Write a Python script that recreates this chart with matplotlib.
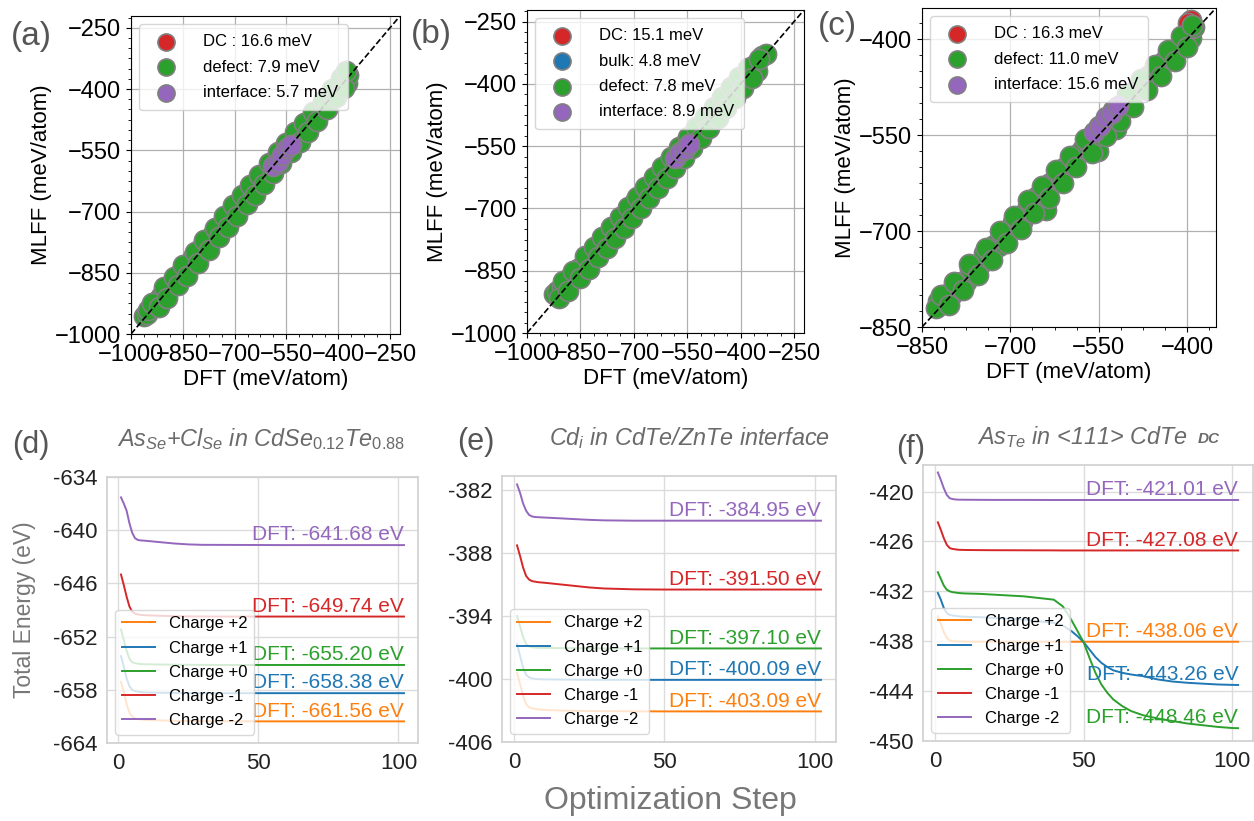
import matplotlib.pyplot as plt
from matplotlib.ticker import AutoMinorLocator, FuncFormatter

plt.rcParams['font.family'] = ['Liberation Sans', 'DejaVu Sans']
plt.rcParams['mathtext.fontset'] = 'custom'
plt.rcParams['mathtext.it'] = 'Liberation Sans:italic'
plt.rcParams['mathtext.rm'] = 'Liberation Sans'
plt.rcParams['mathtext.bf'] = 'Liberation Sans:bold'

W, H = 1254, 821

# ---- parity data (meV/atom) ----
a_dc_dft = [-705, -650]
a_dc_mlff = [-700, -645]
a_defect_dft = [-962, -955, -946, -936, -925, -913, -902, -890, -878, -866, -855, -843, -832, -820,
                -808, -796, -785, -773, -762, -750, -738, -727, -716, -705, -694, -683, -672, -661,
                -650, -639, -628, -617, -606, -595, -584, -573, -562, -551, -540, -529, -518, -507,
                -496, -485, -474, -463, -452, -441, -430, -419, -408, -397, -386, -378, -374, -371,
                -950, -940, -920, -905, -895, -875, -865, -850, -838, -815, -805, -790, -775, -758,
                -745, -730, -718, -705, -692, -678, -665, -655, -642, -628, -615, -600, -590, -575,
                -565, -550, -538, -525, -512, -500, -488, -472, -460, -445, -432, -418, -405, -392,
                -382, -376]
a_defect_mlff = [-955, -950, -938, -930, -920, -906, -898, -884, -872, -862, -848, -840, -826, -812,
                 -805, -790, -781, -768, -756, -746, -732, -722, -712, -700, -690, -690, -666, -668,
                 -645, -636, -622, -614, -600, -590, -580, -566, -556, -545, -534, -523, -515, -500,
                 -492, -480, -470, -458, -448, -436, -426, -414, -402, -390, -382, -372, -385, -365,
                 -942, -925, -935, -885, -912, -860, -880, -830, -858, -800, -825, -770, -795, -740,
                 -762, -712, -738, -685, -712, -660, -682, -635, -660, -610, -632, -582, -605, -555,
                 -582, -532, -555, -505, -530, -482, -505, -455, -478, -428, -450, -400, -420, -372,
                 -398, -356]
a_interface_dft = [-588, -575, -562, -548, -536]
a_interface_mlff = [-588, -578, -562, -545, -538]

b_dc_dft = [-751, -693]
b_dc_mlff = [-742, -680]
b_bulk_dft = [-856, -866]
b_bulk_mlff = [-845, -858]
b_defect_dft = [-925, -915, -903, -892, -880, -868, -856, -845, -833, -821, -810, -798, -786, -775,
                -763, -751, -740, -728, -716, -705, -693, -681, -670, -658, -646, -635, -623, -611,
                -600, -588, -576, -565, -553, -541, -530, -518, -506, -495, -483, -471, -460, -448,
                -436, -424, -412, -400, -388, -376, -364, -355, -340, -330,
                -910, -898, -885, -870, -850, -838, -826, -812, -800, -788, -776, -764, -752, -740,
                -728, -716, -704, -692, -680, -668, -656, -644, -632, -620, -608, -596, -584, -572,
                -560, -548, -536, -524, -512, -500, -488, -476, -464, -452, -440, -428, -416, -404,
                -392, -380, -368, -348]
b_defect_mlff = [-905, -900, -888, -882, -866, -858, -845, -838, -822, -812, -798, -788, -776, -765,
                 -752, -742, -728, -716, -704, -694, -680, -670, -664, -645, -634, -622, -612, -598,
                 -588, -575, -564, -553, -540, -528, -520, -506, -495, -484, -472, -460, -448, -436,
                 -425, -414, -400, -390, -378, -368, -358, -368, -334, -328,
                 -915, -875, -900, -850, -868, -815, -845, -792, -818, -768, -795, -744, -770, -720,
                 -746, -696, -722, -672, -700, -648, -675, -624, -650, -600, -626, -576, -602, -552,
                 -578, -528, -554, -504, -530, -480, -506, -456, -482, -432, -458, -408, -434, -384,
                 -410, -362, -386, -340]
b_interface_dft = [-585, -570, -555, -545]
b_interface_mlff = [-578, -565, -556, -545]

c_dc_dft = [-394, -398]
c_dc_mlff = [-370, -375]
c_defect_dft = [-822, -815, -808, -800, -792, -784, -776, -768, -760, -752, -744, -736, -728, -720,
                -712, -704, -696, -688, -680, -672, -664, -656, -648, -640, -632, -624, -616, -608,
                -600, -592, -584, -576, -568, -560, -552, -544, -536, -528, -520, -512, -504, -496,
                -488, -480, -472, -464, -456, -448, -440, -432, -424, -416, -408, -400, -394, -390,
                -388,
                -826, -818, -805, -795, -780, -770, -755, -742, -732, -718, -706, -694, -682, -670,
                -660, -646, -634, -622, -610, -598, -588, -574, -562, -550, -538, -526, -514, -502,
                -492, -478, -468, -455, -444, -432, -420, -410, -400, -392]
c_defect_mlff = [-810, -810, -798, -802, -784, -780, -779, -759, -754, -753, -734, -733, -721, -724,
                 -704, -702, -685, -683, -686, -665, -661, -647, -649, -667, -624, -618, -612, -600,
                 -596, -585, -578, -570, -562, -552, -575, -538, -530, -520, -541, -505, -498, -490,
                 -480, -472, -466, -456, -452, -440, -434, -425, -418, -412, -402, -392, -398, -383,
                 -380,
                 -820, -800, -815, -780, -792, -752, -768, -726, -745, -700, -718, -676, -696, -652,
                 -672, -630, -648, -604, -624, -582, -600, -556, -578, -535, -552, -510, -528, -486,
                 -506, -462, -480, -440, -458, -416, -434, -395, -412, -378]
c_interface_dft = [-558, -548, -538, -528, -518]
c_interface_mlff = [-545, -535, -522, -515, -505]

# ---- relaxation trajectories (eV) ----
charge_labels = ['Charge +2', 'Charge +1', 'Charge +0', 'Charge -1', 'Charge -2']
charge_colors = ['#ff7f0e', '#1f77b4', '#2ca02c', '#d62728', '#9467bd']

steps_de = [1, 2, 3, 4, 5, 6, 7, 8, 10, 15, 20, 25, 30, 40, 50, 60, 70, 80, 90, 100, 102]
d_p2 = [-657.1, -658.3, -659.6, -660.6, -661.0, -661.2, -661.3, -661.35, -661.4, -661.45, -661.5,
        -661.52, -661.54, -661.55, -661.56, -661.56, -661.56, -661.56, -661.56, -661.56, -661.56]
d_p1 = [-654.2, -655.4, -656.7, -657.6, -658.0, -658.15, -658.2, -658.25, -658.3, -658.33, -658.35,
        -658.36, -658.37, -658.38, -658.38, -658.38, -658.38, -658.38, -658.38, -658.38, -658.38]
d_0 = [-651.2, -652.4, -653.6, -654.5, -654.9, -655.0, -655.05, -655.1, -655.12, -655.15, -655.17,
       -655.18, -655.19, -655.2, -655.2, -655.2, -655.2, -655.2, -655.2, -655.2, -655.2]
d_m1 = [-645.0, -646.2, -647.5, -648.6, -649.2, -649.4, -649.5, -649.55, -649.6, -649.65, -649.7,
        -649.72, -649.73, -649.74, -649.74, -649.74, -649.74, -649.74, -649.74, -649.74, -649.74]
d_m2 = [-636.3, -637.0, -637.8, -639.2, -640.3, -640.9, -641.1, -641.15, -641.2, -641.35, -641.5,
        -641.6, -641.65, -641.66, -641.67, -641.68, -641.68, -641.68, -641.68, -641.68, -641.68]

e_p2 = [-399.4, -400.5, -401.6, -402.4, -402.7, -402.8, -402.85, -402.9, -402.95, -403.0, -403.03,
        -403.05, -403.07, -403.08, -403.09, -403.09, -403.09, -403.09, -403.09, -403.09, -403.09]
e_p1 = [-396.7, -397.8, -398.9, -399.6, -399.85, -399.95, -400.0, -400.02, -400.04, -400.06, -400.07,
        -400.08, -400.09, -400.09, -400.09, -400.09, -400.09, -400.09, -400.09, -400.09, -400.09]
e_0 = [-394.0, -395.0, -396.0, -396.7, -396.9, -397.0, -397.02, -397.04, -397.05, -397.07, -397.08,
       -397.09, -397.1, -397.1, -397.1, -397.1, -397.1, -397.1, -397.1, -397.1, -397.1]
e_m1 = [-387.3, -388.3, -389.4, -390.2, -390.55, -390.7, -390.75, -390.8, -390.85, -391.0, -391.15,
        -391.3, -391.4, -391.48, -391.5, -391.5, -391.5, -391.5, -391.5, -391.5, -391.5]
e_m2 = [-381.5, -382.3, -383.3, -384.0, -384.4, -384.55, -384.6, -384.62, -384.65, -384.72, -384.8,
        -384.87, -384.92, -384.95, -384.95, -384.95, -384.95, -384.95, -384.95, -384.95, -384.95]

steps_f = [1, 2, 3, 4, 5, 6, 7, 8, 10, 15, 20, 30, 40, 43, 46, 48, 50, 52, 54, 56, 58, 60, 63, 66,
           70, 75, 80, 85, 90, 95, 100, 102]
f_p2 = [-435.0, -435.9, -436.9, -437.6, -437.9, -438.0, -438.02, -438.03, -438.04, -438.05, -438.05,
        -438.06, -438.06, -438.06, -438.06, -438.06, -438.06, -438.06, -438.06, -438.06, -438.06,
        -438.06, -438.06, -438.06, -438.06, -438.06, -438.06, -438.06, -438.06, -438.06, -438.06,
        -438.06]
f_p1 = [-432.2, -433.0, -434.0, -434.6, -434.85, -434.9, -434.95, -435.0, -435.05, -435.1, -435.2,
        -435.4, -435.8, -436.1, -436.8, -437.4, -438.1, -439.0, -439.9, -440.6, -441.1, -441.5,
        -441.8, -442.0, -442.2, -442.6, -442.85, -443.0, -443.1, -443.2, -443.25, -443.26]
f_0 = [-429.7, -430.5, -431.3, -431.8, -432.0, -432.1, -432.15, -432.2, -432.25, -432.3, -432.4,
       -432.6, -433.0, -433.8, -435.5, -436.8, -438.1, -440.0, -441.8, -443.2, -444.2, -445.0,
       -445.8, -446.4, -446.9, -447.3, -447.6, -447.9, -448.1, -448.3, -448.44, -448.46]
f_m1 = [-423.7, -424.6, -425.6, -426.4, -426.8, -426.9, -426.95, -427.0, -427.02, -427.04, -427.05,
        -427.06, -427.07, -427.08, -427.08, -427.08, -427.08, -427.08, -427.08, -427.08, -427.08,
        -427.08, -427.08, -427.08, -427.08, -427.08, -427.08, -427.08, -427.08, -427.08, -427.08,
        -427.08]
f_m2 = [-417.7, -418.6, -419.6, -420.4, -420.8, -420.9, -420.95, -420.97, -420.98, -420.99, -421.0,
        -421.0, -421.01, -421.01, -421.01, -421.01, -421.01, -421.01, -421.01, -421.01, -421.01,
        -421.01, -421.01, -421.01, -421.01, -421.01, -421.01, -421.01, -421.01, -421.01, -421.01,
        -421.01]


def axes_at(fig, left, top, right, bottom):
    return fig.add_axes([left / W, 1 - bottom / H, (right - left) / W, (bottom - top) / H])


def parity_panel(ax, groups, lo, hi, ticks):
    for name, dft, mlff, color in groups:
        ax.scatter(dft, mlff, s=210, color=color, edgecolor='gray', linewidth=1.2,
                   label=name, zorder=3)
    ax.plot([lo, hi], [lo, hi], 'k--', lw=1.2, zorder=4)
    ax.set_xlim(lo, hi)
    ax.set_ylim(lo, hi)
    ax.set_xticks(ticks)
    ax.set_yticks(ticks)
    ax.xaxis.set_minor_locator(AutoMinorLocator(4))
    ax.yaxis.set_minor_locator(AutoMinorLocator(6))
    ax.grid(True, color='#b0b0b0', lw=0.9)
    ax.set_axisbelow(True)
    ax.tick_params(labelsize=17)
    ax.set_xlabel('DFT (meV/atom)', fontsize=16, labelpad=2)
    ax.set_ylabel('MLFF (meV/atom)', fontsize=16, labelpad=2)
    leg = ax.legend(loc='upper left', fontsize=12, handletextpad=1.2, labelspacing=0.62,
                    framealpha=0.8, borderpad=0.6, scatterpoints=1, markerscale=0.85)
    leg.set_zorder(5)


def relax_panel(ax, steps, series, ylo, yhi, yticks):
    for label, energies, color in series:
        ax.plot(steps, energies, color=color, lw=1.4, label=label)
        ax.annotate(f'DFT: {energies[-1]:.2f} eV', xy=(steps[-1], energies[-1]),
                    xytext=(0, 3.5), textcoords='offset points', ha='right', va='baseline',
                    color=color, fontsize=15)
    ax.set_xlim(-4, 107)
    ax.set_ylim(ylo, yhi)
    ax.set_xticks([0, 50, 100])
    ax.set_yticks(yticks)
    ax.yaxis.set_major_formatter(FuncFormatter(lambda v, p: f'{v:.0f}'))
    ax.grid(True, color='#dcdcdc', lw=1.0)
    ax.set_axisbelow(True)
    for sp in ax.spines.values():
        sp.set_color('#d0d0d0')
        sp.set_linewidth(1.2)
    ax.tick_params(length=0, labelsize=16, labelcolor='#222222', pad=7)
    leg = ax.legend(loc='lower left', fontsize=12, framealpha=0.8,
                    handlelength=2.0, handletextpad=0.8, labelspacing=0.55)
    leg.get_frame().set_edgecolor('#d0d0d0')


fig = plt.figure(figsize=(W / 100, H / 100), dpi=100)

ax_a = axes_at(fig, 131, 16, 400, 334)
parity_panel(ax_a, [('DC : 16.6 meV', a_dc_dft, a_dc_mlff, '#d62728'),
                    ('defect: 7.9 meV', a_defect_dft, a_defect_mlff, '#2ca02c'),
                    ('interface: 5.7 meV', a_interface_dft, a_interface_mlff, '#9467bd')],
             -1000, -221, [-1000, -850, -700, -550, -400, -250])

ax_b = axes_at(fig, 527, 10, 804, 333)
parity_panel(ax_b, [('DC: 15.1 meV', b_dc_dft, b_dc_mlff, '#d62728'),
                    ('bulk: 4.8 meV', b_bulk_dft, b_bulk_mlff, '#1f77b4'),
                    ('defect: 7.8 meV', b_defect_dft, b_defect_mlff, '#2ca02c'),
                    ('interface: 8.9 meV', b_interface_dft, b_interface_mlff, '#9467bd')],
             -1000, -222, [-1000, -850, -700, -550, -400, -250])

ax_c = axes_at(fig, 922, 8, 1216, 327)
parity_panel(ax_c, [('DC : 16.3 meV', c_dc_dft, c_dc_mlff, '#d62728'),
                    ('defect: 11.0 meV', c_defect_dft, c_defect_mlff, '#2ca02c'),
                    ('interface: 15.6 meV', c_interface_dft, c_interface_mlff, '#9467bd')],
             -850, -351, [-850, -700, -550, -400])

ax_d = axes_at(fig, 107, 477, 418, 743)
relax_panel(ax_d, steps_de, list(zip(charge_labels, [d_p2, d_p1, d_0, d_m1, d_m2], charge_colors)),
            -664, -634, [-634, -640, -646, -652, -658, -664])

ax_e = axes_at(fig, 502, 476, 836, 742)
relax_panel(ax_e, steps_de, list(zip(charge_labels, [e_p2, e_p1, e_0, e_m1, e_m2], charge_colors)),
            -406, -380.7, [-382, -388, -394, -400, -406])

ax_f = axes_at(fig, 923, 465, 1253, 741)
relax_panel(ax_f, steps_f, list(zip(charge_labels, [f_p2, f_p1, f_0, f_m1, f_m2], charge_colors)),
            -450, -416.8, [-420, -426, -432, -438, -444, -450])

# panel letters
for letter, x, y, size in [('(a)', 11, 36, 24), ('(b)', 411, 34, 24), ('(c)', 818, 26, 24),
                           ('(d)', 12, 445, 22), ('(e)', 457, 442, 22), ('(f)', 896, 449, 22)]:
    fig.text(x / W, 1 - y / H, letter, fontsize=size, color='#555555', ha='left', va='center')

# system titles for the relaxation panels
title_kw = dict(fontsize=16.8, color='#6a6a6a', style='italic', va='baseline')
fig.text(261 / W, 1 - 446 / H,
         r'$\mathit{As}_{\mathit{Se}}$+$\mathit{Cl}_{\mathit{Se}}$ in '
         r'$\mathit{CdSe}_{\mathit{0.12}}\mathit{Te}_{\mathit{0.88}}$', ha='center', **title_kw)
fig.text(689 / W, 1 - 445 / H, r'$\mathit{Cd}_{\mathit{i}}$ in CdTe/ZnTe interface',
         ha='center', **title_kw)
fig.text(1187 / W, 1 - 444 / H, r'$\mathit{As}_{\mathit{Te}}$ in <111> CdTe', ha='right', **title_kw)
fig.text(1198 / W, 1 - 443 / H, 'DC', fontsize=11, color='#6a6a6a', style='italic',
         weight='bold', ha='left', va='baseline')

fig.text(25 / W, 1 - 610 / H, 'Total Energy (eV)', fontsize=16.5, color='#777777',
         rotation=90, ha='center', va='center')
fig.text(670 / W, 1 - 801 / H, 'Optimization Step', fontsize=23, color='#777777',
         ha='center', va='center')

fig.savefig('out.png', dpi=100)
